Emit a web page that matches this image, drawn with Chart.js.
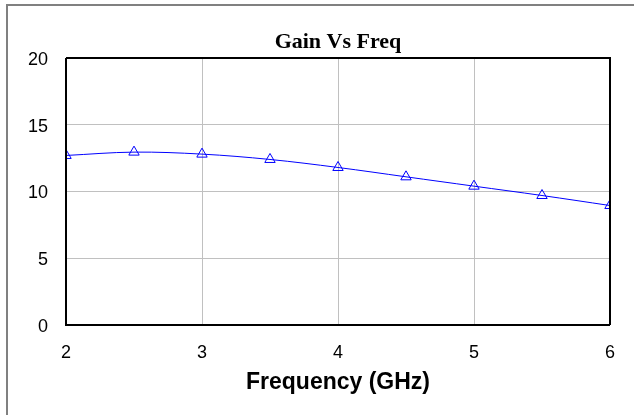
<!DOCTYPE html>
<html>
<head>
<meta charset="utf-8">
<script src="https://cdn.jsdelivr.net/npm/chart.js@4/dist/chart.umd.min.js"></script>
<style>
  html, body { margin: 0; padding: 0; background: #fff; }
  #wrap { position: relative; width: 634px; height: 415px; }
  #frame { position: absolute; left: 6px; top: 4px; right: 0; bottom: 0; border-left: 2px solid #808080; border-top: 2px solid #808080; pointer-events: none; }
  canvas { position: absolute; left: 0; top: 0; }
</style>
</head>
<body>
<div id="wrap">
  <canvas id="c" width="634" height="415"></canvas>
  <div id="frame"></div>
</div>
<script>
const chartTitle = "Gain Vs Freq";
const xAxisTitle = "Frequency (GHz)";
const frequencies = [2, 2.5, 3, 3.5, 4, 4.5, 5, 5.5, 6];
const gainValues = [12.7, 12.95, 12.8, 12.4, 11.8, 11.1, 10.4, 9.7, 8.95];
const xTicks = [2, 3, 4, 5, 6];
const yTicks = [0, 5, 10, 15, 20];

const points = frequencies.map((f, i) => ({ x: f, y: gainValues[i] }));

const framePlugin = {
  id: 'framePlugin',
  afterDatasetsDraw(chart) {
    const { ctx, chartArea: a } = chart;
    ctx.save();
    ctx.strokeStyle = '#000';
    ctx.lineWidth = 2;
    ctx.beginPath();
    ctx.moveTo(a.left, a.top);
    ctx.lineTo(a.right, a.top);
    ctx.lineTo(a.right, a.bottom);
    ctx.moveTo(a.left, a.top);
    ctx.lineTo(a.left, a.bottom);
    ctx.lineTo(a.right, a.bottom);
    ctx.stroke();
    ctx.fillStyle = '#000';
    ctx.textAlign = 'center';
    ctx.textBaseline = 'middle';
    ctx.font = 'bold 22px "Liberation Serif", "Times New Roman", serif';
    ctx.fillText(chartTitle, (a.left + a.right) / 2, 42);
    ctx.restore();
  }
};

new Chart(document.getElementById('c'), {
  type: 'line',
  data: {
    datasets: [{
      data: points,
      borderColor: '#0000ff',
      borderWidth: 1,
      backgroundColor: 'rgba(0,0,0,0)',
      pointStyle: 'triangle',
      pointRadius: 6,
      pointBorderColor: '#0000ff',
      pointBackgroundColor: 'rgba(0,0,0,0)',
      pointBorderWidth: 1,
      tension: 0.35,
      clip: 0
    }]
  },
  options: {
    responsive: false,
    animation: false,
    devicePixelRatio: 1,
    layout: { padding: { left: 0, right: 24, top: 58, bottom: 0 } },
    plugins: { legend: { display: false }, title: { display: false }, tooltip: { enabled: false } },
    scales: {
      x: {
        type: 'linear',
        min: 2, max: 6,
        afterBuildTicks(s) { s.ticks = xTicks.map(v => ({ value: v })); },
        afterFit(s) { s.height = 90; },
        grid: { color: '#c0c0c0', lineWidth: 1, drawTicks: false },
        border: { display: false },
        ticks: { color: '#000', font: { family: '"Liberation Sans", Arial, sans-serif', size: 18 }, padding: 17, maxRotation: 0 },
        title: { display: true, text: xAxisTitle, color: '#000', font: { family: '"Liberation Sans", Arial, sans-serif', size: 23, weight: 'bold' }, padding: { top: 0, bottom: 19 } }
      },
      y: {
        min: 0, max: 20,
        afterBuildTicks(s) { s.ticks = yTicks.map(v => ({ value: v })); },
        afterFit(s) { s.width = 66; },
        grid: { color: '#c0c0c0', lineWidth: 1, drawTicks: false },
        border: { display: false },
        ticks: { color: '#000', font: { family: '"Liberation Sans", Arial, sans-serif', size: 18 }, padding: 18, labelOffset: 2 }
      }
    }
  },
  plugins: [framePlugin]
});
</script>
</body>
</html>
